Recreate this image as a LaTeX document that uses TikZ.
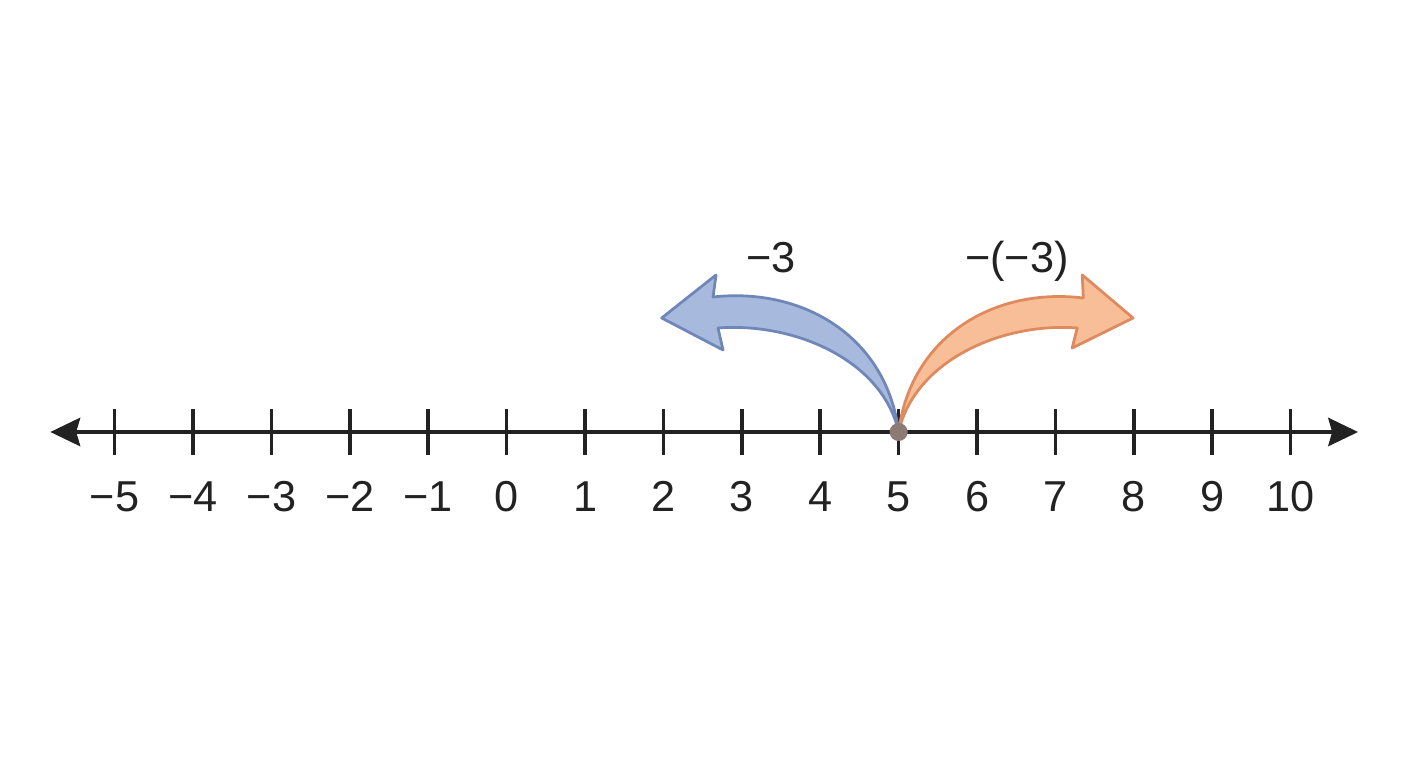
\documentclass[tikz,border=0pt]{standalone}
\usepackage{fontspec}
\setmainfont{Liberation Sans}
\usetikzlibrary{arrows.meta}
\definecolor{axisgray}{RGB}{34,34,34}
\definecolor{leftfill}{RGB}{168,185,222}
\definecolor{leftline}{RGB}{111,134,184}
\definecolor{rightfill}{RGB}{247,190,151}
\definecolor{rightline}{RGB}{222,137,94}
\definecolor{dotgray}{RGB}{140,123,117}
\tikzset{
  numlabel/.style={anchor=base, font=\fontsize{15.7}{18}\selectfont, text=axisgray, inner sep=0pt},
  jumparrow/.style={line width=1pt, line join=round},
  linetip/.tip={Stealth[length=0.38cm, width=0.36cm, inset=0.05cm]},
}
\begin{document}
\begin{tikzpicture}
    \useasboundingbox[fill=white] (-6.462,-4.286) rectangle (11.497,5.510);
    \coordinate (lend) at (-5.82,0);
    \coordinate (rend) at (10.86,0);
    \coordinate (start) at (5,0);
    \draw[linetip-linetip, line width=1.45pt, color=axisgray] (lend) -- (rend);
    \foreach \x in {-5,...,10}
    \draw[shift={(\x,0)},color=axisgray,line width=1.3pt] (0,0.29) -- (0,-0.29);
    \foreach \x in {-5,...,10}
    \node[numlabel] (lab\x) at (\x,-1.02) {\ifnum\x<0 −\number-\x\else\x\fi};
    % jump of -3
    \draw[jumparrow, fill=leftfill, draw=leftline] (start)
      .. controls (4.85,1.2) and (3.8,1.85) .. (2.633,1.722)
      -- (2.671,2.003) -- (1.978,1.454) -- (2.760,1.046) -- (2.696,1.327)
      .. controls (3.7,1.4) and (4.8,0.9) .. (start) -- cycle;
    % jump of -(-3)
    \draw[jumparrow, fill=rightfill, draw=rightline] (start)
      .. controls (5.15,1.2) and (6.2,1.85) .. (7.355,1.709)
      -- (7.342,2.003) -- (7.990,1.454) -- (7.214,1.071) -- (7.278,1.327)
      .. controls (6.3,1.4) and (5.2,0.9) .. (start) -- cycle;
    \node[circle, fill=dotgray, inner sep=0pt, minimum size=0.23cm] (dot) at (start) {};
    \node[numlabel] (leftlab) at (3.373,2.04) {−3};
    \node[numlabel] (rightlab) at (6.51,2.04) {−(−3)};
\end{tikzpicture}
\end{document}
